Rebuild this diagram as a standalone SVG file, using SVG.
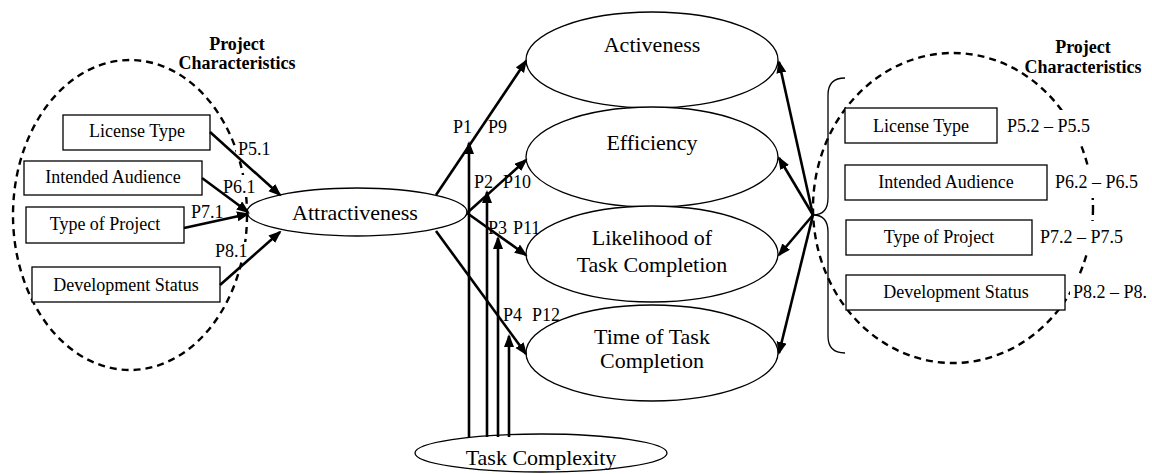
<svg xmlns="http://www.w3.org/2000/svg" width="1152" height="474" viewBox="0 0 1152 474">
<style>
.bg{fill:#fff}
.dash{fill:none;stroke:#000;stroke-width:2.4;stroke-dasharray:7 5}
.box{fill:#fff;stroke:#000;stroke-width:1.3}
.ell{fill:#fff;stroke:#000;stroke-width:1.3}
.t{font-family:"Liberation Serif","Times New Roman",serif;font-size:18px;fill:#000}
.tl{font-family:"Liberation Serif","Times New Roman",serif;font-size:22px;fill:#000;text-anchor:middle}
.tm{text-anchor:middle}
.title{font-family:"Liberation Serif","Times New Roman",serif;font-size:18px;font-weight:bold;text-anchor:middle;fill:#000}
.c{fill:none;stroke:#000;stroke-width:2.6;marker-end:url(#ah)}
.brace{fill:none;stroke:#000;stroke-width:1.3}
</style>
<defs>
<marker id="ah" markerUnits="userSpaceOnUse" markerWidth="14" markerHeight="11" refX="11" refY="5" orient="auto">
<path d="M0,0 L13,5 L0,10 z" fill="#000"/>
</marker>
</defs>
<rect x="0" y="0" width="1152" height="474" fill="#fff"/>

<g id="group-left">
<ellipse class="dash" cx="130" cy="215" rx="117" ry="155"/>
<text class="title" x="237" y="50">Project</text>
<text class="title" x="237" y="69">Characteristics</text>
</g>
<g id="group-right">
<ellipse class="dash" cx="953" cy="208" rx="140" ry="155"/>
<text class="title" x="1083" y="53">Project</text>
<text class="title" x="1083" y="73">Characteristics</text>
</g>

<g id="labels">
<rect class="bg" x="236" y="137" width="36" height="22"/>
<text class="t" x="238" y="155">P5.1</text>
<rect class="bg" x="221" y="175" width="36" height="22"/>
<text class="t" x="223" y="193">P6.1</text>
<text class="t" x="191" y="218">P7.1</text>
<rect class="bg" x="214" y="242" width="34" height="19"/>
<text class="t" x="215" y="257">P8.1</text>
<text class="t" x="453" y="133">P1</text>
<text class="t" x="488" y="133">P9</text>
<text class="t" x="474" y="188">P2</text>
<text class="t" x="503" y="188">P10</text>
<text class="t" x="488" y="234">P3</text>
<text class="t" x="513" y="234">P11</text>
<text class="t" x="503" y="321">P4</text>
<text class="t" x="532" y="321">P12</text>
<rect class="bg" x="1004" y="110" width="90" height="32"/>
<text class="t" x="1007" y="132">P5.2 – P5.5</text>
<rect class="bg" x="1052" y="166" width="92" height="32"/>
<text class="t" x="1055" y="188">P6.2 – P6.5</text>
<rect class="bg" x="1037" y="221" width="90" height="32"/>
<text class="t" x="1040" y="243">P7.2 – P7.5</text>
<rect class="bg" x="1070" y="276" width="82" height="32"/>
<text class="t" x="1073" y="298">P8.2 – P8.</text>
</g>

<g id="left-license">
<rect class="box" x="63" y="115" width="147" height="35"/>
<text class="t tm" x="137" y="137">License Type</text>
</g>
<g id="left-audience">
<rect class="box" x="24" y="161" width="178" height="34"/>
<text class="t tm" x="113" y="183">Intended Audience</text>
</g>
<g id="left-type">
<rect class="box" x="26" y="207" width="158" height="36"/>
<text class="t tm" x="105" y="230">Type of Project</text>
</g>
<g id="left-status">
<rect class="box" x="32" y="267" width="188" height="35"/>
<text class="t tm" x="126" y="291">Development Status</text>
</g>

<g id="attractiveness">
<ellipse class="ell" cx="357" cy="212" rx="110" ry="24"/>
<text class="tl" x="355" y="220">Attractiveness</text>
</g>
<g id="activeness">
<ellipse class="ell" cx="652" cy="60" rx="126" ry="48"/>
<text class="tl" x="652" y="52">Activeness</text>
</g>
<g id="efficiency">
<ellipse class="ell" cx="652" cy="157" rx="126" ry="50"/>
<text class="tl" x="652" y="150">Efficiency</text>
</g>
<g id="likelihood">
<ellipse class="ell" cx="652" cy="254" rx="126" ry="48"/>
<text class="tl" x="652" y="245">Likelihood of</text>
<text class="tl" x="652" y="272">Task Completion</text>
</g>
<g id="time">
<ellipse class="ell" cx="652" cy="353" rx="126" ry="48"/>
<text class="tl" x="652" y="344">Time of Task</text>
<text class="tl" x="652" y="368">Completion</text>
</g>
<g id="complexity">
<ellipse class="ell" cx="541" cy="453" rx="126" ry="19"/>
<text class="tl" x="541" y="465">Task Complexity</text>
</g>

<g id="right-license">
<rect class="box" x="845" y="108" width="152" height="35"/>
<text class="t tm" x="921" y="132">License Type</text>
</g>
<g id="right-audience">
<rect class="box" x="845" y="165" width="202" height="35"/>
<text class="t tm" x="946" y="188">Intended Audience</text>
</g>
<g id="right-type">
<rect class="box" x="846" y="220" width="186" height="35"/>
<text class="t tm" x="939" y="243">Type of Project</text>
</g>
<g id="right-status">
<rect class="box" x="846" y="275" width="219" height="35"/>
<text class="t tm" x="956" y="298">Development Status</text>
</g>

<g id="connectors">
<path class="c" d="M210,132 L280,195"/>
<path class="c" d="M202,178 L248,212"/>
<path class="c" d="M184,228 L248,214"/>
<path class="c" d="M220,285 L280,232"/>
<path class="c" d="M436,195 L526,61"/>
<path class="c" d="M467,213 L526,160"/>
<path class="c" d="M467,213 L526,255"/>
<path class="c" d="M436,231 L526,354"/>
<path class="c" d="M469,437 L469,143"/>
<path class="c" d="M487,437 L487,192"/>
<path class="c" d="M498,437 L498,238"/>
<path class="c" d="M509,437 L509,336"/>
<path class="c" d="M813,215 L779,62"/>
<path class="c" d="M813,215 L779,158"/>
<path class="c" d="M813,215 L779,255"/>
<path class="c" d="M813,215 L779,353"/>
<path class="brace" d="M845,78 Q828,78 828,95 L828,198 Q828,215 813,215 Q828,215 828,232 L828,336 Q828,353 845,353"/>
</g>
</svg>
